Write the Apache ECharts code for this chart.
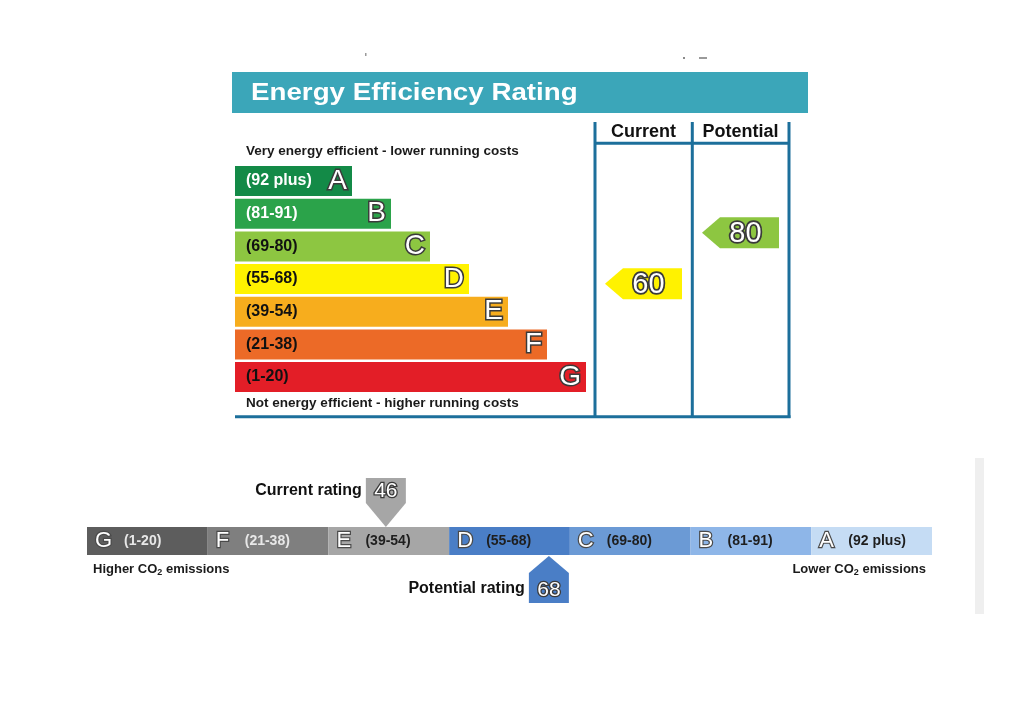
<!DOCTYPE html>
<html>
<head>
<meta charset="utf-8">
<script src="https://cdn.jsdelivr.net/npm/echarts@6/dist/echarts.min.js"></script>
<style>
html,body{margin:0;padding:0;background:#ffffff;}
#chart{width:1024px;height:724px;}
</style>
</head>
<body>
<div id="chart"></div>
<script>
// ---------- data ----------
const effLetters = ['A', 'B', 'C', 'D', 'E', 'F', 'G'];
const effRanges = ['(92 plus)', '(81-91)', '(69-80)', '(55-68)', '(39-54)', '(21-38)', '(1-20)'];
const effLowerBounds = [92, 81, 69, 55, 39, 21, 1];
const effBarLengths = [3, 4, 5, 6, 7, 8, 9];
const effColumns = ['Current', 'Potential'];
const effRatings = [60, 80];

const co2Letters = ['G', 'F', 'E', 'D', 'C', 'B', 'A'];
const co2Ranges = ['(1-20)', '(21-38)', '(39-54)', '(55-68)', '(69-80)', '(81-91)', '(92 plus)'];
const co2LowerBounds = [1, 21, 39, 55, 69, 81, 92];
const co2SegmentSpan = [1, 1, 1, 1, 1, 1, 1];
const co2MarkerLabels = ['Current rating', 'Potential rating'];
const co2Ratings = [46, 68];

// ---------- styles ----------
const FONT = '"Liberation Sans", Arial, Helvetica, sans-serif';
const effColors = ['#138a47', '#2ba34a', '#8dc641', '#fff200', '#f7ad1d', '#ec6a27', '#e31e27'];
const effRangeLight = [true, true, false, false, false, false, false];
const co2Colors = ['#5d5d5d', '#7f7f7f', '#a6a6a6', '#4a7ec6', '#6b9ad5', '#8eb6e8', '#c5dcf4'];
const co2RangeLight = [true, true, false, false, false, false, false];
const frameColor = '#1c6f9b';
const outline = '#3a3a3a';

function effBand(r) {
  for (let i = 0; i < effLowerBounds.length; i++) if (r >= effLowerBounds[i]) return i;
  return effLowerBounds.length - 1;
}
function co2Band(r) {
  let b = 0;
  for (let i = 0; i < co2LowerBounds.length; i++) if (r >= co2LowerBounds[i]) b = i;
  return b;
}
function outlinedText(txt, x, y, font, lw) {
  // dark outline drawn first, white fill on top
  return [
    {type: 'text', style: {text: txt, x: x, y: y, font: font, fill: outline, stroke: outline, lineWidth: lw,
      align: 'center', verticalAlign: 'middle', textAlign: 'center', textVerticalAlign: 'middle'}},
    {type: 'text', style: {text: txt, x: x, y: y, font: font, fill: '#ffffff',
      align: 'center', verticalAlign: 'middle', textAlign: 'center', textVerticalAlign: 'middle'}}
  ];
}

const chart = echarts.init(document.getElementById('chart'), null, {renderer: 'canvas'});

const option = {
  animation: false,
  backgroundColor: '#ffffff',
  grid: [
    {left: 235, top: 164.7, width: 351, height: 228.7},
    {left: 595, top: 164.7, width: 194, height: 228.7},
    {left: 87, top: 527, width: 845, height: 28},
    {left: 45, top: 478, width: 741, height: 125}
  ],
  xAxis: [
    {gridIndex: 0, type: 'value', min: 0, max: 9, show: false},
    {gridIndex: 1, type: 'category', data: effColumns, position: 'top',
      axisLine: {show: false}, axisTick: {show: false}, splitLine: {show: false},
      axisLabel: {interval: 0, margin: 24, fontSize: 18, fontWeight: 'bold', color: '#111', fontFamily: FONT,
        hideOverlap: false}},
    {gridIndex: 2, type: 'category', data: co2Letters, show: false},
    {gridIndex: 3, type: 'value', min: 0, max: 100, show: false}
  ],
  yAxis: [
    {gridIndex: 0, type: 'category', data: effLetters, inverse: true, show: false},
    {gridIndex: 1, type: 'category', data: effLetters, inverse: true, show: false},
    {gridIndex: 2, type: 'value', min: 0, max: 1, show: false},
    {gridIndex: 3, type: 'value', min: 0, max: 1, show: false}
  ],
  graphic: [
    {type: 'rect', shape: {x: 232, y: 72, width: 576, height: 41}, style: {fill: '#3ba6b9'}},
    {type: 'text', x: 251, y: 93.5, scaleX: 1.18, style: {text: 'Energy Efficiency Rating', fill: '#ffffff',
      font: 'bold 23.5px ' + FONT, align: 'left', verticalAlign: 'middle', textAlign: 'left', textVerticalAlign: 'middle'}},
    {type: 'text', x: 246, y: 151.5, scaleX: 1.04, style: {text: 'Very energy efficient - lower running costs', fill: '#1a1a1a',
      font: 'bold 13px ' + FONT, align: 'left', verticalAlign: 'middle', textAlign: 'left', textVerticalAlign: 'middle'}},
    {type: 'text', x: 246, y: 403, scaleX: 1.04, style: {text: 'Not energy efficient - higher running costs', fill: '#1a1a1a',
      font: 'bold 13px ' + FONT, align: 'left', verticalAlign: 'middle', textAlign: 'left', textVerticalAlign: 'middle'}},
    {type: 'line', shape: {x1: 595, y1: 122, x2: 595, y2: 418}, style: {stroke: frameColor, lineWidth: 3}},
    {type: 'line', shape: {x1: 692.3, y1: 122, x2: 692.3, y2: 418}, style: {stroke: frameColor, lineWidth: 3}},
    {type: 'line', shape: {x1: 789, y1: 122, x2: 789, y2: 418}, style: {stroke: frameColor, lineWidth: 3}},
    {type: 'line', shape: {x1: 595, y1: 143.3, x2: 789, y2: 143.3}, style: {stroke: frameColor, lineWidth: 3}},
    {type: 'line', shape: {x1: 235, y1: 416.7, x2: 790.5, y2: 416.7}, style: {stroke: frameColor, lineWidth: 3}},
    {type: 'text', x: 93, y: 569, style: {text: 'Higher CO{s|2} emissions', fill: '#1a1a1a',
      font: 'bold 13px ' + FONT, align: 'left', verticalAlign: 'middle', textAlign: 'left', textVerticalAlign: 'middle',
      rich: {s: {fontSize: 9, fontWeight: 'bold', fontFamily: FONT, fill: '#1a1a1a', color: '#1a1a1a', padding: [8, 0, 0, 0]}}}},
    {type: 'text', x: 926, y: 569, style: {text: 'Lower CO{s|2} emissions', fill: '#1a1a1a',
      font: 'bold 13px ' + FONT, align: 'right', verticalAlign: 'middle', textAlign: 'right', textVerticalAlign: 'middle',
      rich: {s: {fontSize: 9, fontWeight: 'bold', fontFamily: FONT, fill: '#1a1a1a', color: '#1a1a1a', padding: [8, 0, 0, 0]}}}},
    {type: 'rect', shape: {x: 975, y: 458, width: 9, height: 156}, style: {fill: '#efefef'}},
    {type: 'rect', shape: {x: 365, y: 53, width: 1.5, height: 3}, style: {fill: '#9a9a9a'}},
    {type: 'rect', shape: {x: 683, y: 57, width: 2, height: 2}, style: {fill: '#8a8a8a'}},
    {type: 'rect', shape: {x: 699, y: 57, width: 8, height: 2}, style: {fill: '#9a9a9a'}}
  ],
  series: [
    {
      type: 'bar', xAxisIndex: 0, yAxisIndex: 0, barWidth: 30, barGap: '-100%',
      data: effBarLengths.map((v, i) => ({value: v, itemStyle: {color: effColors[i]}})),
      label: {
        show: true, position: 'insideLeft', distance: 11,
        formatter: p => (effRangeLight[p.dataIndex] ? '{w|' : '{k|') + effRanges[p.dataIndex] + '}',
        rich: {
          w: {color: '#ffffff', fontSize: 16, fontWeight: 'bold', fontFamily: FONT},
          k: {color: '#111111', fontSize: 16, fontWeight: 'bold', fontFamily: FONT}
        }
      },
      z: 2
    },
    {
      type: 'bar', xAxisIndex: 0, yAxisIndex: 0, barWidth: 30, barGap: '-100%',
      data: effBarLengths.slice(),
      itemStyle: {color: 'rgba(0,0,0,0)'},
      label: {
        show: true, position: 'insideRight', distance: 5,
        formatter: p => effLetters[p.dataIndex],
        color: '#ffffff', fontSize: 28, fontWeight: 'normal', fontFamily: FONT,
        textBorderColor: outline, textBorderWidth: 3
      },
      z: 3
    },
    {
      type: 'custom', xAxisIndex: 1, yAxisIndex: 1,
      data: effRatings.map((r, i) => [i, effBand(r), r]),
      encode: {x: 0, y: 1},
      renderItem: function (params, api) {
        const col = api.value(0), band = api.value(1), r = api.value(2);
        const c = api.coord([col, band]);
        const bandH = api.size([0, 1])[1];
        const colW = api.size([1, 0])[0];
        const lo = effLowerBounds[band];
        const hi = band === 0 ? 101 : effLowerBounds[band - 1];
        const frac = (hi - r) / (hi - lo);
        const yc = c[1] + (frac - 0.5) * bandH;
        const half = 15.5, tip = 18;
        const left = c[0] - colW * 0.397, right = c[0] + colW * 0.397;
        return {
          type: 'group',
          children: [
            {type: 'polygon', shape: {points: [[left, yc], [left + tip, yc - half], [right, yc - half], [right, yc + half], [left + tip, yc + half]]},
              style: {fill: effColors[band]}}
          ].concat(outlinedText(String(r), (left + tip + right) / 2 - 4, yc + 1, 'normal 29px ' + FONT, 3.5))
        };
      },
      z: 5
    },
    {
      type: 'bar', xAxisIndex: 2, yAxisIndex: 2, barCategoryGap: '0%', barWidth: '100%',
      data: co2SegmentSpan.map((v, i) => ({value: v, itemStyle: {color: co2Colors[i]}})),
      label: {
        show: true, position: 'insideLeft', distance: 8,
        formatter: p => '{l|' + co2Letters[p.dataIndex] + '}' + (co2RangeLight[p.dataIndex] ? '{w|' : '{k|') + co2Ranges[p.dataIndex] + '}',
        rich: {
          l: {color: '#ffffff', fontSize: 22, fontWeight: 'normal', fontFamily: FONT, width: 29,
            textBorderColor: '#4a4a4a', textBorderWidth: 2.4},
          w: {color: '#e8e8e8', fontSize: 14, fontWeight: 'bold', fontFamily: FONT},
          k: {color: '#1e1e1e', fontSize: 14, fontWeight: 'bold', fontFamily: FONT}
        }
      }
    },
    {
      type: 'custom', xAxisIndex: 3, yAxisIndex: 3,
      data: co2Ratings.map((r, i) => [r, i]),
      encode: {x: 0},
      renderItem: function (params, api) {
        const r = api.value(0), kind = api.value(1);
        const x = api.coord([r, 0])[0];
        const cs = params.coordSys;
        const color = co2Colors[co2Band(r)];
        const hw = 20;
        let pts, ty, ly;
        if (kind === 0) {
          const top = cs.y, sh = cs.y + 25, tp = cs.y + 49;
          pts = [[x - hw, top], [x + hw, top], [x + hw, sh], [x, tp], [x - hw, sh]];
          ty = top + 13; ly = top + 13;
        } else {
          const bot = cs.y + cs.height, sh = bot - 30, tp = bot - 47;
          pts = [[x, tp], [x + hw, sh], [x + hw, bot], [x - hw, bot], [x - hw, sh]];
          ty = bot - 13; ly = bot - 14;
        }
        return {
          type: 'group',
          children: [
            {type: 'polygon', shape: {points: pts}, style: {fill: color}}
          ].concat(outlinedText(String(r), x, ty, 'normal 21px ' + FONT, 2.6)).concat([
            {type: 'text', style: {text: co2MarkerLabels[kind], x: x - hw - 4, y: ly, font: 'bold 16px ' + FONT,
              fill: '#111111', align: 'right', verticalAlign: 'middle', textAlign: 'right', textVerticalAlign: 'middle'}}
          ])
        };
      },
      z: 5
    }
  ]
};

chart.setOption(option);
</script>
</body>
</html>
